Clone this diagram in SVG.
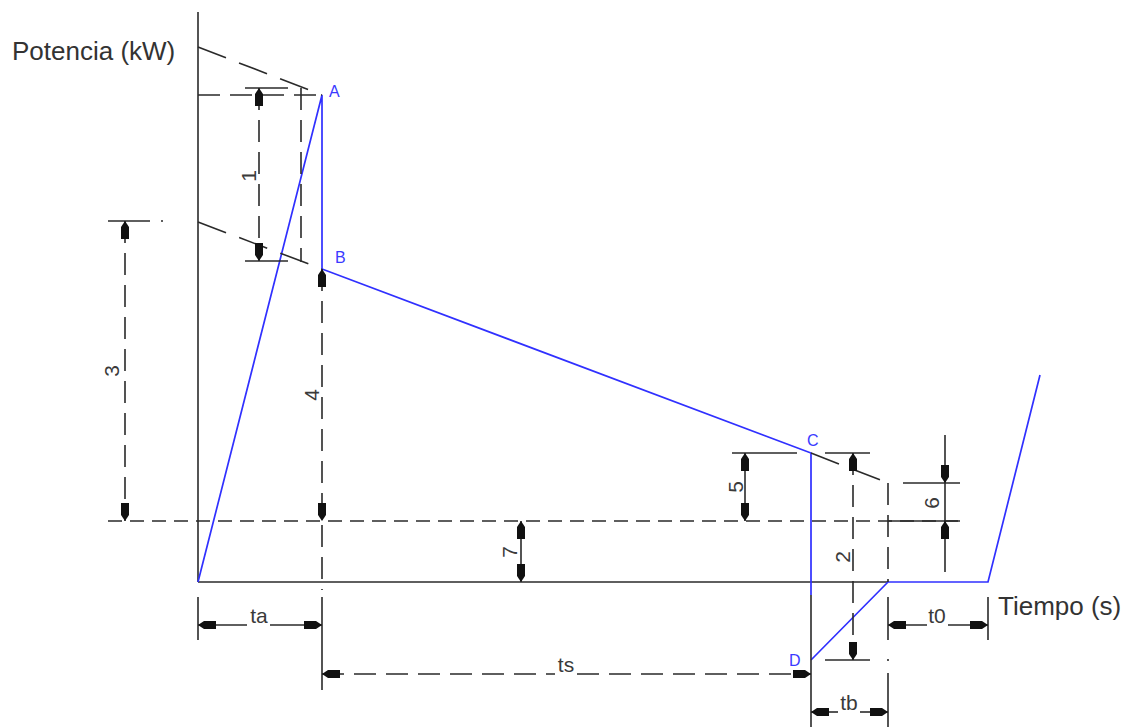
<svg xmlns="http://www.w3.org/2000/svg" width="1129" height="727" viewBox="0 0 1129 727">
<style>
.k{stroke:#2a2a2a;stroke-width:1.6;fill:none}
.d{stroke:#2a2a2a;stroke-width:1.6;fill:none;stroke-dasharray:22 10}
.ds{stroke:#2a2a2a;stroke-width:1.6;fill:none;stroke-dasharray:14 8}
.sl{stroke:#2a2a2a;stroke-width:1.6;fill:none;stroke-dasharray:30 14}
.b{stroke:#3030ff;stroke-width:1.7;fill:none}
.lbl{font-family:"Liberation Sans",Arial,sans-serif;font-size:26px;fill:#333}
.dim{font-family:"Liberation Sans",Arial,sans-serif;font-size:21px;fill:#3a3a3a}
.pt{font-family:"Liberation Sans",Arial,sans-serif;font-size:16px;fill:#3a3aff}
.ah{fill:#111}
</style>
<defs>
<path id="ah" d="M0,0 L4,6 L4,18 L-4,18 L-4,6 Z"/>
</defs>
<rect width="1129" height="727" fill="#fff"/>
<g id="axes">
<line class="k" x1="198" y1="12" x2="198" y2="582"/>
<line class="k" x1="198" y1="582" x2="888" y2="582"/>
<text class="lbl" x="12" y="60">Potencia (kW)</text>
<text class="lbl" x="998" y="615">Tiempo (s)</text>
</g>
<g id="curve">
<polyline class="b" points="198,582 322,95 322,269 811,453 811,595"/>
<polyline class="b" points="811,660 888,582 988,582 1040,375"/>
<text class="pt" x="329" y="97">A</text>
<text class="pt" x="335" y="263">B</text>
<text class="pt" x="807" y="446">C</text>
<text class="pt" x="789" y="666">D</text>
</g>
<g id="construction">
<line class="sl" x1="198" y1="47" x2="322" y2="95"/>
<line class="sl" x1="198" y1="222" x2="322" y2="269"/>
<line class="sl" x1="811" y1="453" x2="888" y2="483"/>
<line class="d" x1="198" y1="95" x2="322" y2="95"/>
<line class="d" x1="301" y1="88" x2="301" y2="262"/>
<line class="ds" x1="108" y1="521" x2="958" y2="521"/>
<line class="d" x1="888" y1="483" x2="888" y2="582"/>
<line class="k" x1="888" y1="597" x2="888" y2="640"/>
<line class="k" x1="888" y1="659" x2="888" y2="661"/>
<line class="k" x1="888" y1="673" x2="888" y2="727"/>
<line class="k" x1="811" y1="595" x2="811" y2="727"/>
</g>
<g id="dim1">
<line class="k" x1="245" y1="88" x2="288" y2="88"/>
<line class="k" x1="245" y1="261" x2="288" y2="261"/>
<line class="d" x1="259" y1="88" x2="259" y2="261"/>
<use href="#ah" class="ah" transform="translate(259,88)"/>
<use href="#ah" class="ah" transform="translate(259,261) rotate(180)"/>
<text class="dim" transform="translate(248,176) rotate(-90)" text-anchor="middle" dominant-baseline="central">1</text>
</g>
<g id="dim3">
<line class="k" x1="108" y1="221" x2="150" y2="221"/>
<line class="k" x1="161" y1="221" x2="163" y2="221"/>
<line class="d" x1="125" y1="221" x2="125" y2="521"/>
<use href="#ah" class="ah" transform="translate(125,221)"/>
<use href="#ah" class="ah" transform="translate(125,521) rotate(180)"/>
<text class="dim" transform="translate(111,371) rotate(-90)" text-anchor="middle" dominant-baseline="central">3</text>
</g>
<g id="dim4">
<line class="d" x1="322" y1="269" x2="322" y2="590"/>
<line class="k" x1="322" y1="597" x2="322" y2="690"/>
<use href="#ah" class="ah" transform="translate(322,269)"/>
<use href="#ah" class="ah" transform="translate(322,521) rotate(180)"/>
<text class="dim" transform="translate(311,395) rotate(-90)" text-anchor="middle" dominant-baseline="central">4</text>
</g>
<g id="dim5">
<line class="k" x1="732" y1="453" x2="797" y2="453"/>
<line class="k" x1="745" y1="453" x2="745" y2="521"/>
<use href="#ah" class="ah" transform="translate(745,453)"/>
<use href="#ah" class="ah" transform="translate(745,521) rotate(180)"/>
<text class="dim" transform="translate(735,487) rotate(-90)" text-anchor="middle" dominant-baseline="central">5</text>
</g>
<g id="dim2">
<line class="k" x1="825" y1="453" x2="870" y2="453"/>
<line class="k" x1="825" y1="660" x2="870" y2="660"/>
<line class="d" x1="853" y1="453" x2="853" y2="660"/>
<use href="#ah" class="ah" transform="translate(853,453)"/>
<use href="#ah" class="ah" transform="translate(853,660) rotate(180)"/>
<text class="dim" transform="translate(842,557) rotate(-90)" text-anchor="middle" dominant-baseline="central">2</text>
</g>
<g id="dim6">
<line class="k" x1="903" y1="483" x2="960" y2="483"/>
<line class="k" x1="888" y1="521" x2="960" y2="521"/>
<line class="k" x1="945" y1="435" x2="945" y2="572"/>
<use href="#ah" class="ah" transform="translate(945,483) rotate(180)"/>
<use href="#ah" class="ah" transform="translate(945,521)"/>
<text class="dim" transform="translate(931,503) rotate(-90)" text-anchor="middle" dominant-baseline="central">6</text>
</g>
<g id="dim7">
<line class="k" x1="521" y1="521" x2="521" y2="582"/>
<use href="#ah" class="ah" transform="translate(521,521)"/>
<use href="#ah" class="ah" transform="translate(521,582) rotate(180)"/>
<text class="dim" transform="translate(509,552) rotate(-90)" text-anchor="middle" dominant-baseline="central">7</text>
</g>
<g id="dim-ta">
<line class="k" x1="198" y1="597" x2="198" y2="640"/>
<line class="k" x1="198" y1="625" x2="247" y2="625"/>
<line class="k" x1="270" y1="625" x2="322" y2="625"/>
<use href="#ah" class="ah" transform="translate(198,625) rotate(-90)"/>
<use href="#ah" class="ah" transform="translate(322,625) rotate(90)"/>
<text class="dim" x="259" y="623" text-anchor="middle">ta</text>
</g>
<g id="dim-ts">
<line class="d" x1="322" y1="674" x2="555" y2="674" stroke-dasharray="20 14"/>
<line class="d" x1="577" y1="674" x2="811" y2="674" stroke-dasharray="20 14"/>
<use href="#ah" class="ah" transform="translate(322,674) rotate(-90)"/>
<use href="#ah" class="ah" transform="translate(811,674) rotate(90)"/>
<text class="dim" x="566" y="672" text-anchor="middle">ts</text>
</g>
<g id="dim-tb">
<line class="k" x1="811" y1="712" x2="838" y2="712"/>
<line class="k" x1="860" y1="712" x2="888" y2="712"/>
<use href="#ah" class="ah" transform="translate(811,712) rotate(-90)"/>
<use href="#ah" class="ah" transform="translate(888,712) rotate(90)"/>
<text class="dim" x="849" y="710" text-anchor="middle">tb</text>
</g>
<g id="dim-t0">
<line class="k" x1="988" y1="597" x2="988" y2="640"/>
<line class="k" x1="888" y1="625" x2="927" y2="625"/>
<line class="k" x1="948" y1="625" x2="988" y2="625"/>
<use href="#ah" class="ah" transform="translate(888,625) rotate(-90)"/>
<use href="#ah" class="ah" transform="translate(988,625) rotate(90)"/>
<text class="dim" x="937" y="623" text-anchor="middle">t0</text>
</g>
</svg>
